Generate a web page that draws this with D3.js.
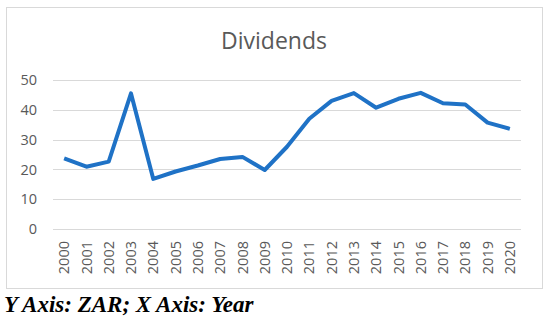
<!DOCTYPE html>
<html>
<head>
<meta charset="utf-8">
<script src="https://cdn.jsdelivr.net/npm/d3@7"></script>
<style>
    body { margin: 0; background: #fff; }
    #plotDiv { width: 550px; height: 324px; }
</style>
</head>
<body>
<div id="plotDiv"></div>
<script>
var years = ["2000","2001","2002","2003","2004","2005","2006","2007","2008","2009","2010",
             "2011","2012","2013","2014","2015","2016","2017","2018","2019","2020"];
var dividends = [23.7, 20.9, 22.6, 45.5, 16.8, 19.3, 21.3, 23.5, 24.2, 19.8, 27.6,
                 37.0, 43.0, 45.6, 40.7, 43.7, 45.7, 42.2, 41.8, 35.7, 33.6];
var yTicks = [0, 10, 20, 30, 40, 50];

window.addEventListener("load", makeChart)

function makeChart() {
    var svg = d3.select('#plotDiv')
        .append('svg')
        .attr('width', 550)
        .attr('height', 324);

    // chart frame
    svg.append('rect')
        .attr('x', 6.5)
        .attr('y', 7.5)
        .attr('width', 536)
        .attr('height', 281)
        .attr('fill', '#fff')
        .attr('stroke', '#d9d9d9');

    svg.append('text')
        .attr('x', 274)
        .attr('y', 49)
        .attr('text-anchor', 'middle')
        .style('font-family', 'Open Sans')
        .style('font-size', '23px')
        .style('fill', '#595959')
        .text('Dividends');

    var x = d3.scaleBand()
        .domain(years)
        .range([53, 521]);

    var y = d3.scaleLinear()
        .domain([0, 50])
        .range([229, 80]);

    var grid = svg.append('g');
    grid.selectAll('line')
        .data(yTicks)
        .enter()
        .append('line')
          .attr('x1', 53)
          .attr('x2', 521)
          .attr('y1', d => Math.round(y(d)) + 0.5)
          .attr('y2', d => Math.round(y(d)) + 0.5)
          .attr('stroke', '#d9d9d9')
          .attr('stroke-width', 1);

    var yAxis = svg.append('g')
        .attr('transform', 'translate(37,0)')
        .call(d3.axisLeft(y).tickValues(yTicks).tickSize(0).tickPadding(0));
    yAxis.select('.domain').remove();
    yAxis.selectAll('text')
        .style('font-family', 'Open Sans')
        .style('font-size', '14.5px')
        .style('fill', '#595959');

    var xAxis = svg.append('g')
        .attr('transform', 'translate(0,241)')
        .call(d3.axisBottom(x).tickSize(0).tickPadding(0));
    xAxis.select('.domain').remove();
    xAxis.selectAll('text')
        .attr('transform', 'rotate(-90)')
        .attr('text-anchor', 'end')
        .attr('x', 0)
        .attr('y', 0)
        .attr('dy', '0.35em')
        .style('font-family', 'Open Sans')
        .style('font-size', '14.5px')
        .style('fill', '#595959');

    var line = d3.line()
        .x((d, i) => x(years[i]) + x.bandwidth() / 2)
        .y(d => y(d));

    svg.append('path')
        .datum(dividends)
        .attr('d', line)
        .attr('fill', 'none')
        .attr('stroke', '#1f72c6')
        .attr('stroke-width', 4)
        .attr('stroke-linejoin', 'round');

    svg.append('text')
        .attr('x', 4)
        .attr('y', 312)
        .style('font-family', 'Liberation Serif')
        .style('font-style', 'italic')
        .style('font-weight', 'bold')
        .style('font-size', '23px')
        .style('fill', '#000')
        .text('Y Axis: ZAR; X Axis: Year');
}
</script>
</body>
</html>
